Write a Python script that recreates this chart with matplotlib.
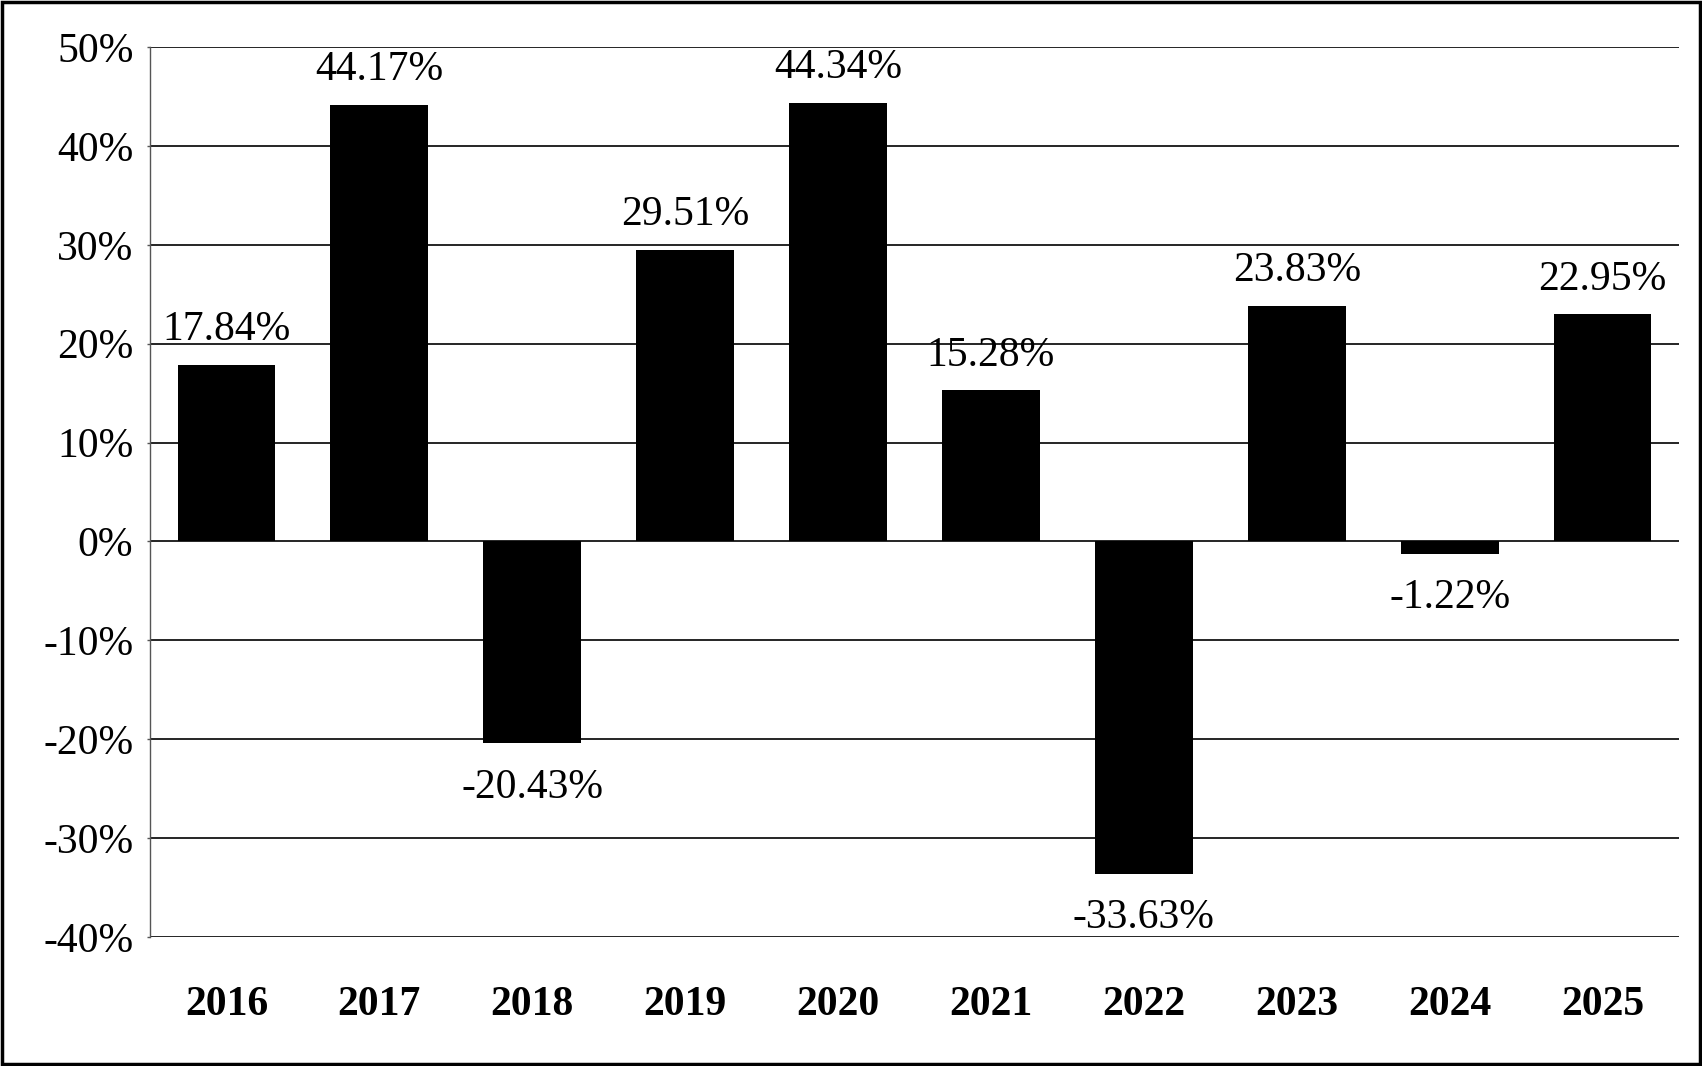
import matplotlib.pyplot as plt
import numpy as np
from matplotlib.patches import Rectangle

# 数据
years = ['2016', '2017', '2018', '2019', '2020', '2021', '2022', '2023', '2024', '2025']
returns = [17.84, 44.17, -20.43, 29.51, 44.34, 15.28, -33.63, 23.83, -1.22, 22.95]
yticks = [50, 40, 30, 20, 10, 0, -10, -20, -30, -40]

plt.rcParams['font.family'] = ['Liberation Serif', 'DejaVu Serif']

fig = plt.figure(figsize=(17.02, 10.66), dpi=100)
ax = fig.add_axes([150/1702, 1-937/1066, (1679-150)/1702, (937-47)/1066])

x = np.arange(len(years))
ax.bar(x, returns, width=0.64, color='black', zorder=3)

# 数据标签
for xi, v in zip(x, returns):
    if v >= 0:
        ax.text(xi, v + 1.6, f'{v:.2f}%', ha='center', va='bottom', fontsize=30)
    else:
        ax.text(xi, v - 2.5, f'{v:.2f}%', ha='center', va='top', fontsize=30)

ax.set_xlim(-0.5, len(years) - 0.5)
ax.set_ylim(-40, 50)
ax.set_yticks(yticks)
ax.set_yticklabels([f'{t}%' for t in yticks], fontsize=30)
ax.set_xticks(x)
ax.set_xticklabels(years, fontsize=30, fontweight='bold')
ax.tick_params(axis='x', length=0, pad=35)
ax.tick_params(axis='y', length=2, width=1.0, pad=10, color='#555555')

ax.yaxis.grid(True, color='black', linewidth=1.2, zorder=0)
ax.set_axisbelow(True)
for s in ['top', 'right', 'bottom']:
    ax.spines[s].set_visible(False)
ax.spines['left'].set_color('#555555')
ax.spines['left'].set_linewidth(1.0)

# 外边框
fig.patches.append(Rectangle((0.001, 0.0015), 0.998, 0.997, transform=fig.transFigure,
                             fill=False, edgecolor='black', linewidth=2.5))

fig.savefig('out.png', dpi=100)
